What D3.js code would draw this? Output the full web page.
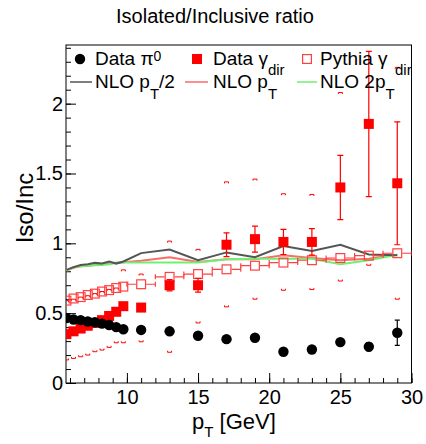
<!DOCTYPE html>
<html>
<head>
<meta charset="utf-8">
<script src="https://cdn.jsdelivr.net/npm/d3@7"></script>
<style>
  html, body { margin: 0; padding: 0; background: #fff; }
  svg { display: block; }
  text { font-family: "Liberation Sans", Arial, Helvetica, sans-serif; fill: #000; }
</style>
</head>
<body>
<svg id="chart" width="426" height="444"></svg>
<script>
// pT bin centres [GeV]: 0.5 GeV bins below 10 GeV, 2 GeV bins above
const ptBins      = [5.75, 6.25, 6.75, 7.25, 7.75, 8.25, 8.75, 9.25, 9.75, 11, 13, 15, 17, 19, 21, 23, 25, 27, 29];
const ptHalfWidth = [0.25, 0.25, 0.25, 0.25, 0.25, 0.25, 0.25, 0.25, 0.25, 1, 1, 1, 1, 1, 1, 1, 1, 1, 1];

// Data pi0 isolated/inclusive ratio
const pi0Ratio = [0.465, 0.455, 0.45, 0.44, 0.435, 0.425, 0.415, 0.40, 0.385, 0.38, 0.37, 0.338, 0.314, 0.324, 0.224, 0.24, 0.293, 0.26, 0.36];
const pi0Err   = [0.01, 0.01, 0.01, 0.01, 0.01, 0.01, 0.01, 0.01, 0.01, 0.012, 0.012, 0.015, 0.015, 0.015, 0.015, 0.018, 0.02, 0.03, 0.09];

// Data direct photon ratio, statistical errors and systematic bounds
const gammaRatio = [0.35, 0.37, 0.39, 0.41, 0.43, 0.45, 0.48, 0.51, 0.55, 0.54, 0.70, 0.70, 0.99, 1.03, 1.01, 1.01, 1.40, 1.855, 1.43];
const gammaErr   = [0.01, 0.01, 0.01, 0.01, 0.01, 0.012, 0.012, 0.015, 0.015, 0.02, 0.04, 0.05, 0.085, 0.093, 0.09, 0.095, 0.23, 0.52, 0.44];
const gammaSysLo = [0.165, 0.176, 0.188, 0.20, 0.224, 0.236, 0.255, 0.288, 0.288, 0.295, 0.22, 0.43, 0.545, 0.60, 0.664, 0.669, 0.73, 0.843, 0.60];
const gammaSysHi = [0.59, 0.60, 0.615, 0.625, 0.64, 0.655, 0.67, 0.68, 0.81, 0.78, 1.016, 0.957, 1.44, 1.46, 1.355, 1.35, 2.08, 2.60, 2.26];

// Pythia direct photon ratio
const pythiaRatio = [0.59, 0.605, 0.615, 0.63, 0.64, 0.655, 0.665, 0.68, 0.69, 0.707, 0.76, 0.78, 0.814, 0.84, 0.862, 0.879, 0.895, 0.912, 0.929];

// NLO predictions for three scale choices
const nloHalfPt = [0.81, 0.83, 0.845, 0.85, 0.86, 0.855, 0.87, 0.855, 0.87, 0.93, 0.955, 0.88, 0.935, 0.90, 0.98, 0.945, 0.99, 0.92, 0.915];
const nloPt     = [0.805, 0.825, 0.835, 0.84, 0.845, 0.85, 0.855, 0.86, 0.865, 0.875, 0.90, 0.867, 0.886, 0.886, 0.914, 0.895, 0.879, 0.89, 0.919];
const nloTwoPt  = [0.805, 0.83, 0.835, 0.84, 0.843, 0.845, 0.85, 0.862, 0.862, 0.862, 0.862, 0.862, 0.886, 0.89, 0.89, 0.89, 0.85, 0.879, 0.919];

// Axis ticks
const xMajorTicks = [10, 15, 20, 25, 30];
const xTickLabels = ["10", "15", "20", "25", "30"];
const yMajorTicks = [0, 0.5, 1, 1.5, 2];
const yTickLabels = ["0", "0.5", "1", "1.5", "2"];

const FRAME = { left: 66, right: 411.5, top: 45, bottom: 383 };
const COLORS = {
  pi0: "#000000",
  gamma: "#ff0000",
  pythia: "#ff4040",
  nloHalf: "#555555",
  nloPt: "#ff6a6a",
  nloTwo: "#70f070"
};

const svg = d3.select("#chart");

const x = d3.scaleLinear().domain([5.72, 30.0]).range([FRAME.left, FRAME.right]);
const y = d3.scaleLinear().domain([0, 2.42]).range([FRAME.bottom, FRAME.top]);

const idx = d3.range(ptBins.length);

// Title
svg.append("text")
  .attr("x", 215).attr("y", 23)
  .attr("text-anchor", "middle")
  .style("font-size", "20px")
  .text("Isolated/Inclusive ratio");

// Clip region for the plotting frame
svg.append("clipPath").attr("id", "plotClip")
  .append("rect")
  .attr("x", FRAME.left).attr("y", FRAME.top)
  .attr("width", FRAME.right - FRAME.left).attr("height", FRAME.bottom - FRAME.top);

// Axes: major and minor ticks drawn inward
const xMinor = d3.range(6, 31, 1);
const yMinor = d3.range(0, 2.41, 0.1);

const gx = svg.append("g").attr("transform", `translate(0,${FRAME.bottom})`);
gx.append("g").call(d3.axisBottom(x).tickValues(xMinor).tickSize(-5).tickFormat(""))
  .call(g => g.select(".domain").remove());
gx.append("g").call(d3.axisBottom(x).tickValues(xMajorTicks).tickSize(-10).tickPadding(4)
    .tickFormat((d, i) => xTickLabels[i]))
  .call(g => g.select(".domain").remove())
  .call(g => g.selectAll("text").style("font-size", "20px").attr("dy", "0.85em").attr("fill", "#000"));

const gy = svg.append("g").attr("transform", `translate(${FRAME.left},0)`);
gy.append("g").call(d3.axisLeft(y).tickValues(yMinor).tickSize(-5).tickFormat(""))
  .call(g => g.select(".domain").remove());
gy.append("g").call(d3.axisLeft(y).tickValues(yMajorTicks).tickSize(-10).tickPadding(3)
    .tickFormat((d, i) => yTickLabels[i]))
  .call(g => g.select(".domain").remove())
  .call(g => g.selectAll("text").style("font-size", "20px").attr("fill", "#000"));
svg.selectAll(".tick line").attr("stroke", "#000");

// Frame
svg.append("rect")
  .attr("x", FRAME.left).attr("y", FRAME.top)
  .attr("width", FRAME.right - FRAME.left).attr("height", FRAME.bottom - FRAME.top)
  .attr("fill", "none").attr("stroke", "#000").attr("stroke-width", 1);

// Axis titles
const xt = svg.append("text").attr("x", 192).attr("y", 429).style("font-size", "22px");
xt.append("tspan").text("p");
xt.append("tspan").attr("dy", 8).style("font-size", "15px").text("T");
xt.append("tspan").attr("dy", -8).text(" [GeV]");

svg.append("text")
  .attr("transform", "translate(33,208) rotate(-90)")
  .attr("text-anchor", "middle")
  .style("font-size", "24px")
  .text("Iso/Inc");

const plot = svg.append("g").attr("clip-path", "url(#plotClip)");

// NLO curves
const nloLine = vals => d3.line().x(i => x(ptBins[i])).y(i => y(vals[i]))(idx);
[[nloPt, COLORS.nloPt], [nloTwoPt, COLORS.nloTwo], [nloHalfPt, COLORS.nloHalf]].forEach(([vals, c]) => {
  plot.append("path").attr("d", nloLine(vals))
    .attr("fill", "none").attr("stroke", c).attr("stroke-width", 2);
});

// Pythia: horizontal bin-width bars with end caps, open squares
const M = 5; // marker half size
const pyG = plot.append("g").attr("stroke", COLORS.pythia).attr("stroke-width", 1.2);
idx.forEach(i => {
  const cx = x(ptBins[i]), cy = y(pythiaRatio[i]);
  const x0 = x(ptBins[i] - ptHalfWidth[i]), x1 = x(ptBins[i] + ptHalfWidth[i]);
  if (x1 - cx > M) {
    pyG.append("line").attr("x1", x0).attr("x2", cx - M).attr("y1", cy).attr("y2", cy);
    pyG.append("line").attr("x1", cx + M).attr("x2", x1).attr("y1", cy).attr("y2", cy);
    pyG.append("line").attr("x1", x0).attr("x2", x0).attr("y1", cy - 2.5).attr("y2", cy + 2.5);
    pyG.append("line").attr("x1", x1).attr("x2", x1).attr("y1", cy - 2.5).attr("y2", cy + 2.5);
  }
  pyG.append("rect").attr("x", cx - M + 0.6).attr("y", cy - M + 0.6)
    .attr("width", 2 * M - 1.2).attr("height", 2 * M - 1.2).attr("fill", "none");
});

// Direct photon data: systematic bound brackets
const sysG = plot.append("g").attr("stroke", COLORS.gamma).attr("stroke-width", 1).attr("fill", "none");
idx.forEach(i => {
  const cx = x(ptBins[i]);
  const lo = y(gammaSysLo[i]), hi = y(gammaSysHi[i]);
  sysG.append("path").attr("d", `M${cx - 2},${lo - 1.5}V${lo}H${cx + 2}V${lo - 1.5}`);
  sysG.append("path").attr("d", `M${cx - 2},${hi + 1.5}V${hi}H${cx + 2}V${hi + 1.5}`);
});

// Direct photon data: statistical error bars and filled squares
const gG = plot.append("g");
idx.forEach(i => {
  const cx = x(ptBins[i]);
  const t = y(gammaRatio[i] + gammaErr[i]), b = y(gammaRatio[i] - gammaErr[i]);
  gG.append("line").attr("x1", cx).attr("x2", cx).attr("y1", t).attr("y2", b)
    .attr("stroke", COLORS.gamma).attr("stroke-width", 1.2);
  gG.append("line").attr("x1", cx - 3).attr("x2", cx + 3).attr("y1", t).attr("y2", t)
    .attr("stroke", COLORS.gamma).attr("stroke-width", 1.2);
  gG.append("line").attr("x1", cx - 3).attr("x2", cx + 3).attr("y1", b).attr("y2", b)
    .attr("stroke", COLORS.gamma).attr("stroke-width", 1.2);
});
gG.selectAll("rect.g").data(idx).join("rect")
  .attr("x", i => x(ptBins[i]) - M).attr("y", i => y(gammaRatio[i]) - M)
  .attr("width", 2 * M).attr("height", 2 * M).attr("fill", COLORS.gamma);

// pi0 data: error bars and filled circles
const pG = plot.append("g");
idx.forEach(i => {
  const cx = x(ptBins[i]);
  const t = y(pi0Ratio[i] + pi0Err[i]), b = y(pi0Ratio[i] - pi0Err[i]);
  pG.append("line").attr("x1", cx).attr("x2", cx).attr("y1", t).attr("y2", b)
    .attr("stroke", COLORS.pi0).attr("stroke-width", 1.2);
  pG.append("line").attr("x1", cx - 2.5).attr("x2", cx + 2.5).attr("y1", t).attr("y2", t)
    .attr("stroke", COLORS.pi0).attr("stroke-width", 1.2);
  pG.append("line").attr("x1", cx - 2.5).attr("x2", cx + 2.5).attr("y1", b).attr("y2", b)
    .attr("stroke", COLORS.pi0).attr("stroke-width", 1.2);
});
pG.selectAll("circle").data(idx).join("circle")
  .attr("cx", i => x(ptBins[i])).attr("cy", i => y(pi0Ratio[i]))
  .attr("r", 5.2).attr("fill", COLORS.pi0);

// Legend
const leg = svg.append("g").style("font-size", "19px");
const row1 = 65, row2 = 88;

leg.append("circle").attr("cx", 80).attr("cy", 59).attr("r", 5.2).attr("fill", COLORS.pi0);
const l1 = leg.append("text").attr("x", 95).attr("y", row1);
l1.append("tspan").text("Data \u03c0");
l1.append("tspan").attr("dy", -4).style("font-size", "14px").text("0");

leg.append("rect").attr("x", 197 - M).attr("y", 59 - M).attr("width", 2 * M).attr("height", 2 * M).attr("fill", COLORS.gamma);
const l2 = leg.append("text").attr("x", 213).attr("y", row1);
l2.append("tspan").text("Data \u03b3");
l2.append("tspan").attr("dy", 10).style("font-size", "15px").text("dir");

leg.append("rect").attr("x", 307 - M + 0.6).attr("y", 59 - M + 0.6).attr("width", 2 * M - 1.2).attr("height", 2 * M - 1.2)
  .attr("fill", "none").attr("stroke", COLORS.pythia).attr("stroke-width", 1.2);
const l3 = leg.append("text").attr("x", 320).attr("y", row1);
l3.append("tspan").text("Pythia \u03b3");
l3.append("tspan").attr("x", 395).attr("dy", 10).style("font-size", "15px").text("dir");

const nloEntries = [
  { x1: 70, x2: 92, tx: 95, color: COLORS.nloHalf, pre: "NLO p", post: "/2" },
  { x1: 185, x2: 208, tx: 213, color: COLORS.nloPt, pre: "NLO p", post: "" },
  { x1: 297, x2: 317, tx: 320, color: COLORS.nloTwo, pre: "NLO 2p", post: "" }
];
nloEntries.forEach(e => {
  leg.append("line").attr("x1", e.x1).attr("x2", e.x2).attr("y1", 82).attr("y2", 82)
    .attr("stroke", e.color).attr("stroke-width", 1.5);
  const t = leg.append("text").attr("x", e.tx).attr("y", row2);
  t.append("tspan").text(e.pre);
  t.append("tspan").attr("dy", 11).style("font-size", "15px").text("T");
  if (e.post) t.append("tspan").attr("dy", -11).text(e.post);
});
</script>
</body>
</html>
